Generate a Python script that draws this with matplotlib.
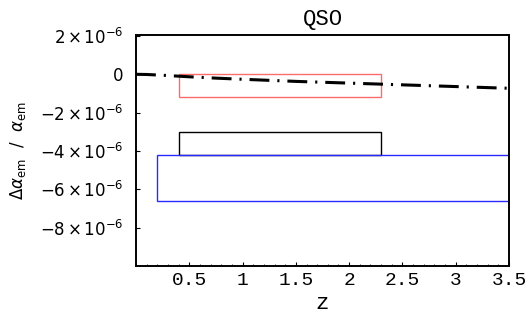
import matplotlib
matplotlib.use("Agg")
import matplotlib.pyplot as plt
from matplotlib.patches import Rectangle
from matplotlib.ticker import MultipleLocator

plt.rcParams['mathtext.fontset'] = 'dejavusans'

## model curve (dash-dot)
z_curve = [0.0, 0.1, 0.25, 0.5, 0.75, 1.0, 1.5, 2.0, 2.5, 3.0, 3.5]
da_curve = [0.0, -0.01, -0.05, -0.13, -0.2, -0.26, -0.37, -0.46, -0.55, -0.64, -0.73]

## observational boxes: z_min, z_max, y_low, y_high (units of 1e-6), colour
box_zmin = [0.4, 0.4, 0.2]
box_zmax = [2.3, 2.3, 3.6]
box_ylow = [-1.2, -4.2, -6.6]
box_yhigh = [0.0, -3.0, -4.2]
box_col = ['#ff6b6b', 'black', '#2a2aff']

x_ticks = [0.5, 1, 1.5, 2, 2.5, 3, 3.5]
x_labels = ['0.5', '1', '1.5', '2', '2.5', '3', '3.5']
y_ticks = [2, 0, -2, -4, -6, -8]
y_labels = [r'$2\,{\times}\,10^{-6}$', '0', r'$-2\,{\times}\,10^{-6}$', r'$-4\,{\times}\,10^{-6}$',
            r'$-6\,{\times}\,10^{-6}$', r'$-8\,{\times}\,10^{-6}$']

fig = plt.figure(figsize=(5.31, 3.14), dpi=100)
ax = fig.add_axes([136 / 531, 48 / 314, 373 / 531, 231 / 314])

for i in range(len(box_zmin)):
    ax.add_patch(Rectangle((box_zmin[i], box_ylow[i] * 1e-6),
                           box_zmax[i] - box_zmin[i],
                           (box_yhigh[i] - box_ylow[i]) * 1e-6,
                           fill=False, edgecolor=box_col[i], lw=1.0))

ax.plot(z_curve, [v * 1e-6 for v in da_curve], color='black', lw=2.2,
        dashes=(6.5, 2.6, 0.7, 2.6), solid_capstyle='butt', dash_capstyle='butt')

# explicit frame round the plot area
ax.add_patch(Rectangle((0, 0), 1, 1, transform=ax.transAxes, fill=False,
                       edgecolor='black', lw=1.2, clip_on=False, zorder=6))

ax.set_xlim(0, 3.5)
ax.set_ylim(-1.0e-5, 2.05e-6)

ax.set_xticks(x_ticks)
ax.set_xticklabels(x_labels, family='Liberation Mono', fontsize=14)
ax.xaxis.set_minor_locator(MultipleLocator(0.1))
ax.set_yticks([v * 1e-6 for v in y_ticks])
ax.set_yticklabels(y_labels, fontsize=12)

ax.tick_params(direction='in', which='major', length=3, width=0.8, top=False, right=False)
ax.tick_params(direction='in', which='minor', length=1.8, width=0.6, top=False, right=False)
ax.tick_params(axis='y', pad=9)
ax.tick_params(axis='x', pad=4)

for s in ax.spines.values():
    s.set_linewidth(1.2)
    s.set_color('black')

ax.set_title('QSO', family='Liberation Mono', fontsize=16, pad=7)
ax.set_xlabel('z', family='Liberation Mono', fontsize=16, labelpad=3)
ax.set_ylabel(r'$\Delta\alpha_{\rm em}\ \ /\ \ \alpha_{\rm em}$', fontsize=12)
ax.yaxis.set_label_coords(-0.29, 0.5)

fig.savefig('out.png', dpi=100)
